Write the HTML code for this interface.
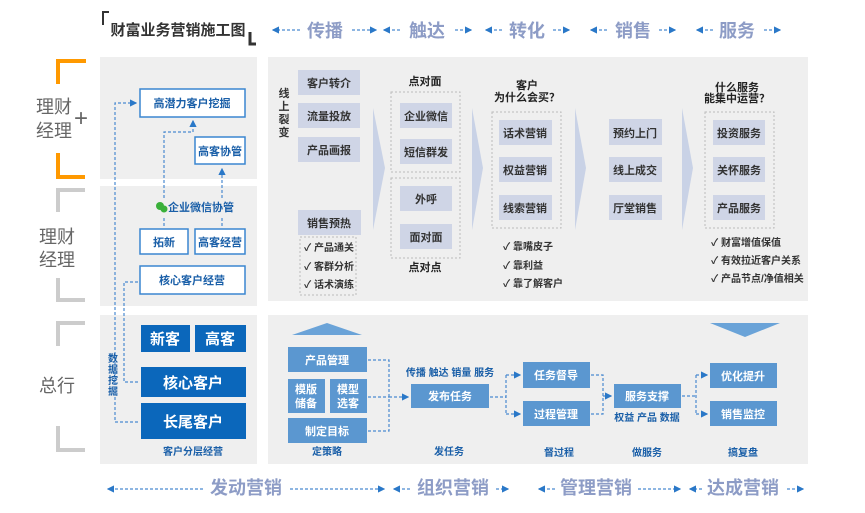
<!DOCTYPE html>
<html><head><meta charset="utf-8"><style>
body{margin:0;background:#fff}
svg{display:block;font-family:"Liberation Sans","Noto Sans CJK SC",sans-serif}
.g{fill:#cfd5e6}.gt{font-size:11px;fill:#333;text-anchor:middle;font-weight:bold}
.b{fill:#5b97d0}.bt{font-size:11px;fill:#fff;text-anchor:middle;font-weight:bold}
.d{fill:#0b67bb}.dt{font-size:15px;fill:#fff;text-anchor:middle;font-weight:bold}
.lb{font-size:10px;fill:#1a5fa8;text-anchor:middle;font-weight:bold}
.st{font-size:18px;fill:#8d9cc6;text-anchor:middle;font-weight:bold}
.ck{font-size:10px;fill:#333;font-weight:bold}
.ds{fill:none;stroke:#4a8ad0;stroke-width:1.2;stroke-dasharray:3,2}
.db{fill:none;stroke:#bbb;stroke-width:1;stroke-dasharray:2,2}
.wb{fill:#fff;stroke:#3a86d0;stroke-width:1.5}
.wt{font-size:11px;fill:#1a5fa8;text-anchor:middle;font-weight:bold}
.side{font-size:18px;fill:#666;text-anchor:middle}
.bl{font-size:11px;fill:#222;text-anchor:middle;font-weight:bold}
</style></head><body>
<svg width="865" height="513" viewBox="0 0 865 513">
<defs><marker id="a" markerWidth="6" markerHeight="6" refX="5" refY="3" orient="auto"><path d="M0,0L6,3L0,6z" fill="#2a78c8"/></marker></defs>
<!-- header -->
<path d="M103,25V12h6" fill="none" stroke="#333" stroke-width="2"/>
<text x="178" y="35" font-size="15" font-weight="bold" fill="#333" text-anchor="middle">财富业务营销施工图</text>
<path d="M250,32v12h6" fill="none" stroke="#333" stroke-width="3"/>
<g class="st"><text x="325" y="37">传播</text><text x="427" y="37">触达</text><text x="527" y="37">转化</text><text x="633" y="37">销售</text><text x="737" y="37">服务</text></g>
<g class="ds" marker-end="url(#a)">
<path d="M300,30h-27"/><path d="M352,30h24"/><path d="M400,30h-16"/><path d="M455,30h16"/><path d="M502,30h-16"/><path d="M553,30h16"/><path d="M607,30h-16"/><path d="M659,30h16"/><path d="M713,30h-16"/><path d="M764,30h16"/>
</g>
<!-- side labels -->
<path d="M58,84V61h28" fill="none" stroke="#f90" stroke-width="4"/><path d="M58,153v24h27" fill="none" stroke="#f90" stroke-width="4"/>
<text x="54" y="113" class="side">理财</text><text x="54" y="137" class="side">经理</text><text x="81" y="126" font-size="24" fill="#666" text-anchor="middle">+</text>
<path d="M58,212V190h27" fill="none" stroke="#ccc" stroke-width="4"/><path d="M58,278v22h27" fill="none" stroke="#ccc" stroke-width="4"/>
<text x="57" y="243" class="side">理财</text><text x="57" y="266" class="side">经理</text>
<path d="M58,346V323h27" fill="none" stroke="#ccc" stroke-width="4"/><path d="M58,426v24h27" fill="none" stroke="#ccc" stroke-width="4"/>
<text x="57" y="392" class="side">总行</text>
<!-- panels -->
<rect x="100" y="57" width="157" height="122" fill="#efefef"/>
<rect x="100" y="186" width="157" height="120" fill="#efefef"/>
<rect x="268" y="57" width="540" height="244" fill="#efefef"/>
<rect x="100" y="315" width="157" height="149" fill="#efefef"/>
<rect x="268" y="315" width="540" height="149" fill="#efefef"/>
<!-- left top -->
<rect x="140" y="89" width="105" height="28" class="wb"/><text x="192" y="107" class="wt">高潜力客户挖掘</text>
<rect x="195" y="137" width="50" height="27" class="wb"/><text x="220" y="155" class="wt">高客协管</text>
<circle cx="160" cy="206" r="4" fill="#3ab03a"/><circle cx="164" cy="209" r="3.5" fill="#3ab03a"/>
<text x="201" y="211" class="wt" font-size="10">企业微信协管</text>
<rect x="140" y="229" width="48" height="25" class="wb"/><text x="164" y="246" class="wt">拓新</text>
<rect x="195" y="229" width="50" height="25" class="wb"/><text x="220" y="246" class="wt">高客经营</text>
<rect x="140" y="266" width="105" height="28" class="wb"/><text x="192" y="284" class="wt">核心客户经营</text>
<path class="ds" d="M164,198V132h29V121" marker-end="url(#a)"/>
<path class="ds" d="M164,226v-8"/><path class="ds" d="M222,226v-8"/>
<path class="ds" d="M222,198V169" marker-end="url(#a)"/>
<path class="ds" d="M138,422H115V103h21" marker-end="url(#a)"/>
<path class="ds" d="M138,382H124V282h14"/>
<text x="113" y="362" font-size="10" font-weight="bold" fill="#1a5fa8" text-anchor="middle"><tspan x="113">数</tspan><tspan x="113" dy="11">据</tspan><tspan x="113" dy="11">挖</tspan><tspan x="113" dy="11">掘</tspan></text>
<!-- left bottom -->
<rect x="141" y="325" width="49" height="27" class="d"/><text x="165" y="344" class="dt">新客</text>
<rect x="195" y="325" width="51" height="27" class="d"/><text x="220" y="344" class="dt">高客</text>
<rect x="141" y="367" width="105" height="30" class="d"/><text x="193" y="388" class="dt">核心客户</text>
<rect x="141" y="403" width="105" height="36" class="d"/><text x="193" y="427" class="dt">长尾客户</text>
<text x="193" y="455" class="lb">客户分层经营</text>
<!-- right top -->
<text x="284" y="97" font-size="11" font-weight="bold" fill="#333" text-anchor="middle"><tspan x="284">线</tspan><tspan x="284" dy="13">上</tspan><tspan x="284" dy="13">裂</tspan><tspan x="284" dy="13">变</tspan></text>
<rect x="298" y="70" width="62" height="25" class="g"/><text x="329" y="87" class="gt">客户转介</text>
<rect x="298" y="103" width="62" height="25" class="g"/><text x="329" y="120" class="gt">流量投放</text>
<rect x="298" y="137" width="62" height="25" class="g"/><text x="329" y="154" class="gt">产品画报</text>
<rect x="298" y="210" width="63" height="25" class="g"/><text x="329" y="227" class="gt">销售预热</text>
<rect x="300" y="237" width="56" height="58" class="db"/>
<text class="ck"><tspan x="304" y="251">✓ 产品通关</tspan><tspan x="304" y="270">✓ 客群分析</tspan><tspan x="304" y="288">✓ 话术演练</tspan></text>
<g fill="#c9d2e6"><path d="M373,108l12,60l-12,62z"/><path d="M472,108l11,60l-11,62z"/><path d="M575,108l11,60l-11,62z"/><path d="M682,108l11,60l-11,62z"/></g>
<text x="425" y="85" class="bl" font-size="10">点对面</text>
<rect x="391" y="92" width="69" height="80" class="db"/>
<rect x="400" y="103" width="52" height="25" class="g"/><text x="426" y="120" class="gt">企业微信</text>
<rect x="400" y="139" width="52" height="25" class="g"/><text x="426" y="156" class="gt">短信群发</text>
<rect x="391" y="178" width="69" height="80" class="db"/>
<rect x="400" y="186" width="52" height="25" class="g"/><text x="426" y="203" class="gt">外呼</text>
<rect x="400" y="224" width="52" height="25" class="g"/><text x="426" y="241" class="gt">面对面</text>
<text x="425" y="271" class="bl" font-size="10">点对点</text>
<text x="527" y="89" class="bl" font-size="10">客户</text><text x="527" y="101" class="bl" font-size="10">为什么会买？</text>
<rect x="492" y="112" width="69" height="116" class="db"/>
<rect x="499" y="120" width="53" height="25" class="g"/><text x="525" y="137" class="gt">话术营销</text>
<rect x="499" y="157" width="53" height="25" class="g"/><text x="525" y="174" class="gt">权益营销</text>
<rect x="499" y="195" width="53" height="25" class="g"/><text x="525" y="212" class="gt">线索营销</text>
<text class="ck"><tspan x="503" y="250">✓ 靠嘴皮子</tspan><tspan x="503" y="269">✓ 靠利益</tspan><tspan x="503" y="287">✓ 靠了解客户</tspan></text>
<rect x="609" y="119" width="53" height="26" class="g"/><text x="635" y="137" class="gt">预约上门</text>
<rect x="609" y="157" width="53" height="25" class="g"/><text x="635" y="174" class="gt">线上成交</text>
<rect x="609" y="195" width="53" height="25" class="g"/><text x="635" y="212" class="gt">厅堂销售</text>
<text x="737" y="91" class="bl" font-size="10">什么服务</text><text x="737" y="102" class="bl" font-size="10">能集中运营？</text>
<rect x="705" y="112" width="69" height="116" class="db"/>
<rect x="713" y="120" width="52" height="25" class="g"/><text x="739" y="137" class="gt">投资服务</text>
<rect x="713" y="157" width="52" height="25" class="g"/><text x="739" y="174" class="gt">关怀服务</text>
<rect x="713" y="195" width="52" height="25" class="g"/><text x="739" y="212" class="gt">产品服务</text>
<text class="ck"><tspan x="711" y="246">✓ 财富增值保值</tspan><tspan x="711" y="264">✓ 有效拉近客户关系</tspan><tspan x="711" y="282">✓ 产品节点/净值相关</tspan></text>
<!-- right bottom -->
<path d="M292,335l35,-12l35,12z" fill="#6aa3d8"/>
<rect x="288" y="347" width="79" height="25" class="b"/><text x="327" y="364" class="bt">产品管理</text>
<rect x="288" y="379" width="37" height="34" class="b"/><text x="306" y="393" class="bt">模版</text><text x="306" y="407" class="bt">储备</text>
<rect x="330" y="379" width="37" height="34" class="b"/><text x="348" y="393" class="bt">模型</text><text x="348" y="407" class="bt">选客</text>
<rect x="288" y="418" width="79" height="25" class="b"/><text x="327" y="435" class="bt">制定目标</text>
<text x="327" y="455" class="lb">定策略</text>
<path class="ds" d="M368,360h21v71h-21M368,397h21"/><path class="ds" d="M389,397h19" marker-end="url(#a)"/>
<text x="450" y="376" class="lb">传播 触达 销量 服务</text>
<rect x="411" y="384" width="78" height="24" class="b"/><text x="450" y="400" class="bt">发布任务</text>
<text x="449" y="455" class="lb">发任务</text>
<path class="ds" d="M490,397h16"/><path class="ds" d="M506,375v39"/>
<path class="ds" d="M506,375h14" marker-end="url(#a)"/><path class="ds" d="M506,414h14" marker-end="url(#a)"/>
<rect x="523" y="362" width="67" height="26" class="b"/><text x="556" y="379" class="bt">任务督导</text>
<rect x="523" y="401" width="67" height="25" class="b"/><text x="556" y="418" class="bt">过程管理</text>
<text x="559" y="456" class="lb">督过程</text>
<path class="ds" d="M591,375h12v39h-12"/><path class="ds" d="M603,396h8" marker-end="url(#a)"/>
<rect x="614" y="384" width="67" height="24" class="b"/><text x="647" y="400" class="bt">服务支撑</text>
<text x="647" y="421" class="lb">权益 产品 数据</text>
<text x="647" y="456" class="lb">做服务</text>
<path class="ds" d="M682,396h14"/><path class="ds" d="M696,375v39"/>
<path class="ds" d="M696,375h11" marker-end="url(#a)"/><path class="ds" d="M696,414h11" marker-end="url(#a)"/>
<path d="M710,323h70l-35,14z" fill="#6aa3d8"/>
<rect x="710" y="363" width="67" height="25" class="b"/><text x="743" y="380" class="bt">优化提升</text>
<rect x="710" y="401" width="67" height="25" class="b"/><text x="743" y="418" class="bt">销售监控</text>
<text x="743" y="456" class="lb">搞复盘</text>
<!-- bottom row -->
<g class="st" font-size="14"><text x="246" y="494">发动营销</text><text x="453" y="494">组织营销</text><text x="596" y="494">管理营销</text><text x="743" y="494">达成营销</text></g>
<g class="ds" marker-end="url(#a)">
<path d="M203,489h-95"/><path d="M290,489h94"/><path d="M410,489h-16"/><path d="M496,489h12"/><path d="M555,489h-16"/><path d="M638,489h42"/><path d="M702,489h-12"/><path d="M787,489h16"/>
</g>
</svg>
</body></html>
